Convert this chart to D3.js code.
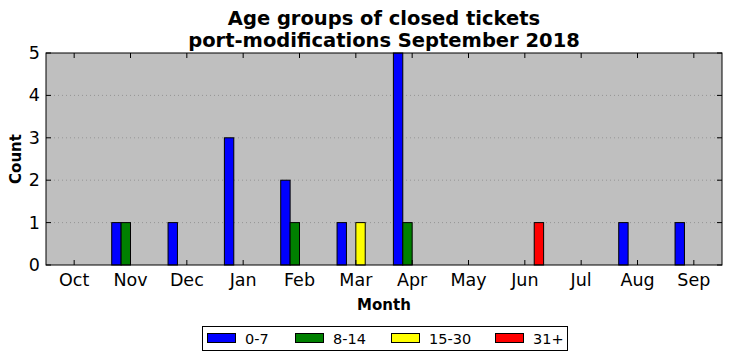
<!DOCTYPE html>
<html><head><meta charset="utf-8">
<script src="https://cdn.jsdelivr.net/npm/d3@7"></script>
<style>body{margin:0;background:#fff;}svg{display:block;font-family:"DejaVu Sans",sans-serif;}</style>
</head><body><svg id="c" width="732" height="361"></svg>
<script>
const months = ["Oct","Nov","Dec","Jan","Feb","Mar","Apr","May","Jun","Jul","Aug","Sep"];
const seriesNames = ["0-7","8-14","15-30","31+"];
const seriesColors = ["#0000ff","#008000","#ffff00","#ff0000"];
const s0_7   = [0,1,1,3,2,1,5,0,0,0,1,1];
const s8_14  = [0,1,0,0,1,0,1,0,0,0,0,0];
const s15_30 = [0,0,0,0,0,1,0,0,0,0,0,0];
const s31    = [0,0,0,0,0,0,0,0,1,0,0,0];
const yTicks = [0,1,2,3,4,5];
const titleLines = ["Age groups of closed tickets","port-modifications September 2018"];

const series = [s0_7,s8_14,s15_30,s31];
const svg = d3.select("#c");
const L=46, R=722, T=53, B=265;
const x = d3.scaleBand().domain(months).range([L,R]);
const y = d3.scaleLinear().domain([0,5]).range([B,T]);
const bw = x.bandwidth()/6;

svg.append("rect").attr("x",L).attr("y",T).attr("width",R-L).attr("height",B-T).attr("fill","#bfbfbf");
svg.append("g").selectAll("line").data(yTicks.slice(1,-1)).join("line")
  .attr("x1",L).attr("x2",R).attr("y1",d=>y(d)).attr("y2",d=>y(d))
  .attr("stroke","#8a8a8a").attr("stroke-width",0.8).attr("stroke-dasharray","1,3");
series.forEach((s,i)=>{
  svg.append("g").selectAll("rect").data(s).join("rect")
    .attr("x",(d,j)=>x(months[j])+x.bandwidth()/2 + (i-2)*bw)
    .attr("y",d=>y(d)).attr("width",bw).attr("height",d=>B-y(d))
    .attr("fill",seriesColors[i]).attr("stroke","#000").attr("stroke-width",1);
});
svg.append("rect").attr("x",L).attr("y",T).attr("width",R-L).attr("height",B-T).attr("fill","none").attr("stroke","#000").attr("stroke-width",1);
const xt = svg.append("g");
months.forEach(m=>{
  const cx = x(m)+x.bandwidth()/2;
  xt.append("line").attr("x1",cx).attr("x2",cx).attr("y1",B).attr("y2",B-5).attr("stroke","#000");
  xt.append("line").attr("x1",cx).attr("x2",cx).attr("y1",T).attr("y2",T+5).attr("stroke","#000");
  xt.append("text").attr("x",cx).attr("y",B+21).attr("text-anchor","middle").attr("font-size",17.5).text(m);
});
const yt = svg.append("g");
yTicks.forEach(v=>{
  yt.append("line").attr("x1",L).attr("x2",L+5).attr("y1",y(v)).attr("y2",y(v)).attr("stroke","#000");
  yt.append("line").attr("x1",R).attr("x2",R-5).attr("y1",y(v)).attr("y2",y(v)).attr("stroke","#000");
  yt.append("text").attr("x",L-6).attr("y",y(v)+6).attr("text-anchor","end").attr("font-size",17.5).text(v);
});
titleLines.forEach((t,i)=>svg.append("text").attr("x",(L+R)/2).attr("y",25+i*22).attr("text-anchor","middle")
  .attr("font-size",19.5).attr("font-weight","bold").text(t));
svg.append("text").attr("x",(L+R)/2).attr("y",309.5).attr("text-anchor","middle").attr("font-size",15).attr("font-weight","bold").text("Month");
svg.append("text").attr("transform",`translate(21,${(T+B)/2}) rotate(-90)`).attr("text-anchor","middle").attr("font-size",15).attr("font-weight","bold").text("Count");
const lg = svg.append("g");
lg.append("rect").attr("x",202.5).attr("y",326.5).attr("width",365).attr("height",24).attr("fill","#fff").attr("stroke","#000");
const lx = [207,295,391,495];
seriesNames.forEach((n,i)=>{
  lg.append("rect").attr("x",lx[i]+0.5).attr("y",333.5).attr("width",28).attr("height",9).attr("fill",seriesColors[i]).attr("stroke","#000");
  lg.append("text").attr("x",lx[i]+38).attr("y",343.5).attr("font-size",14.5).text(n);
});
</script></body></html>
